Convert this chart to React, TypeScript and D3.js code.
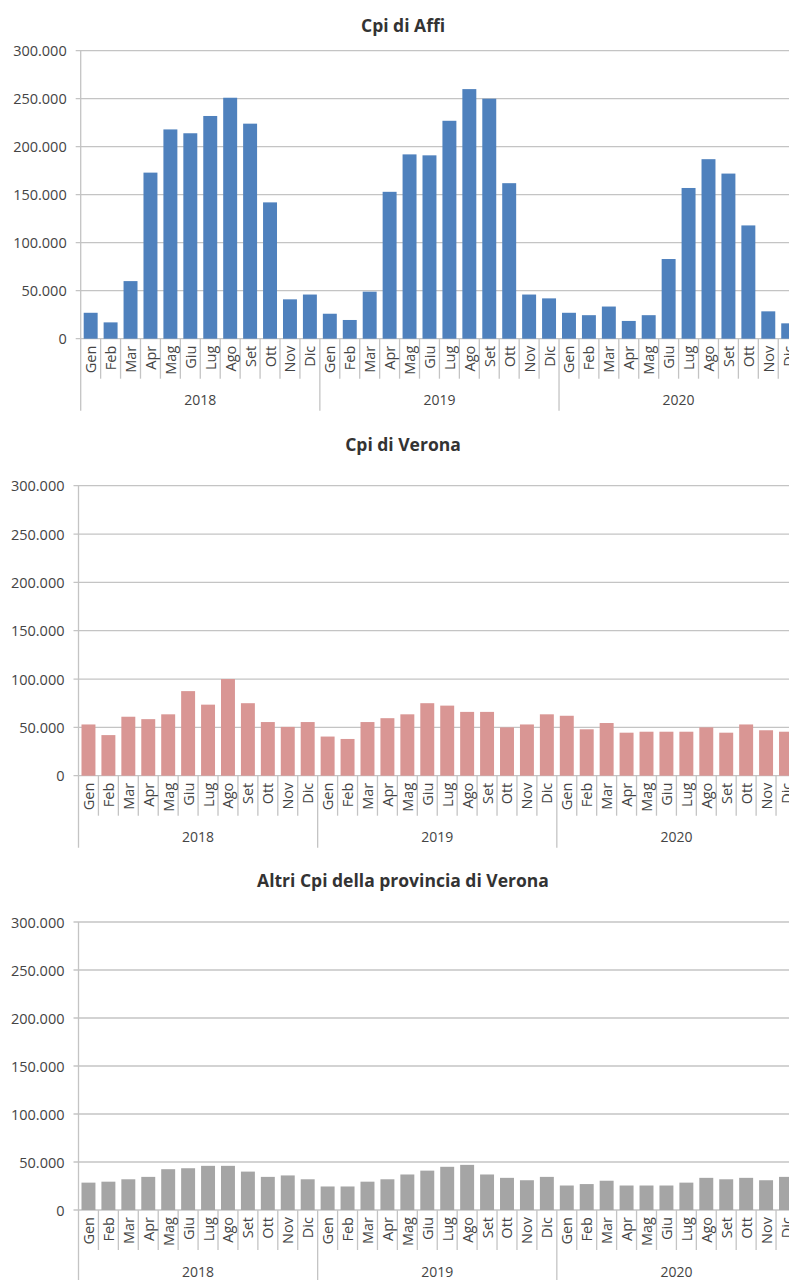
import React from "react";
import * as d3 from "d3";

// Monthly volumes for three groups of Cpi, 2018–2020
const months = ["Gen", "Feb", "Mar", "Apr", "Mag", "Giu", "Lug", "Ago", "Set", "Ott", "Nov", "Dic"];
const years = ["2018", "2019", "2020"];
const yTicks = [0, 50000, 100000, 150000, 200000, 250000, 300000];

const affi = [
  27000, 17000, 60000, 173000, 218000, 214000, 232000, 251000, 224000, 142000, 41000, 46000,
  26000, 19500, 49000, 153000, 192000, 191000, 227000, 260000, 250000, 162000, 46000, 42000,
  27000, 24500, 33500, 18500, 24500, 83000, 157000, 187000, 172000, 118000, 28500, 16000,
];
const verona = [
  53000, 42000, 61000, 58500, 63500, 87500, 73500, 100000, 75000, 55500, 50500, 55500,
  40500, 38000, 55500, 59500, 63500, 75000, 72500, 66000, 66000, 50000, 53000, 63500,
  62000, 48000, 54500, 44500, 45500, 45500, 45500, 50000, 44500, 53000, 47000, 45500,
];
const altri = [
  28500, 29500, 32000, 34500, 42500, 43500, 46000, 46000, 40000, 34500, 36000, 32000,
  24500, 24500, 29500, 32000, 37000, 41000, 45000, 47000, 37000, 33500, 31000, 34500,
  25500, 27000, 30500, 25500, 25500, 25500, 28500, 33500, 32000, 33500, 31000, 34500,
];

const locale = d3.formatLocale({ decimal: ",", thousands: ".", grouping: [3], currency: ["€", ""] });
const fmt = locale.format(",");

const FONT = "'Open Sans', 'Noto Sans', sans-serif";
const GRID = "#c4c4c4";
const TEXT = "#444";

type PanelProps = {
  title: string;
  values: number[];
  color: string;
  titleY: number;
  top: number;
  zero: number;
  x0: number;
};

function Panel({ title, values, color, titleY, top, zero, x0 }: PanelProps) {
  const step = 19.93;
  const cats = years.flatMap((yr) => months.map((m) => `${yr}-${m}`));
  const x = d3.scaleBand<string>().domain(cats).range([x0, x0 + step * cats.length]).padding(0);
  const y = d3.scaleLinear().domain([0, 300000]).range([zero, top]);
  const bw = x.bandwidth() * 0.7;
  const sepBottom = zero + 40;
  const yearBottom = zero + 72;

  return (
    <g>
      <text x={403} y={titleY} textAnchor="middle" dominantBaseline="central"
        fontFamily={FONT} fontWeight={700} fontSize={17.5} fill="#333">{title}</text>
      {yTicks.map((t) => (
        <g key={t}>
          <line x1={x0 - 5} x2={x0 + step * 36} y1={y(t)} y2={y(t)} stroke={GRID} strokeWidth={1.3} />
          <text x={x0 - 14} y={y(t)} textAnchor="end" dominantBaseline="central"
            fontFamily={FONT} fontSize={14.5} fill={TEXT}>{fmt(t)}</text>
        </g>
      ))}
      <line x1={x0} x2={x0} y1={top} y2={yearBottom} stroke={GRID} strokeWidth={1.3} />
      {cats.map((c, i) => (
        <rect key={c} x={(x(c) as number) + (x.bandwidth() - bw) / 2} y={y(values[i])}
          width={bw} height={zero - y(values[i])} fill={color} />
      ))}
      {cats.map((c, i) => {
        const xr = (x(c) as number) + x.bandwidth();
        const isYear = (i + 1) % 12 === 0;
        return <line key={"s" + c} x1={xr} x2={xr} y1={zero} y2={isYear ? yearBottom : sepBottom}
          stroke={GRID} strokeWidth={1.3} />;
      })}
      {cats.map((c, i) => {
        const cx = (x(c) as number) + x.bandwidth() / 2;
        const ty = zero + 7;
        return (
          <text key={"l" + c} x={cx} y={ty} transform={`rotate(-90 ${cx} ${ty})`}
            textAnchor="end" dominantBaseline="central" fontFamily={FONT} fontSize={14.5} fill={TEXT}>
            {months[i % 12]}
          </text>
        );
      })}
      {years.map((yr, k) => {
        const cx = x0 + step * (12 * k + 6);
        return <text key={yr} x={cx} y={zero + 61} textAnchor="middle" dominantBaseline="central"
          fontFamily={FONT} fontSize={14} fill={TEXT}>{yr}</text>;
      })}
    </g>
  );
}

export default function App() {
  return (
    <svg width={789} height={1280} style={{ position: "absolute", left: 0, top: 0, display: "block", background: "#fff" }}>
      <rect width={789} height={1280} fill="#fff" />
      <Panel title="Cpi di Affi" values={affi} color="#4f81bd" titleY={25} top={50.7} zero={338.7} x0={80.7} />
      <Panel title="Cpi di Verona" values={verona} color="#d99694" titleY={444} top={485.7} zero={775.7} x0={78.5} />
      <Panel title="Altri Cpi della provincia di Verona" values={altri} color="#a5a5a5" titleY={880} top={922} zero={1210} x0={78.5} />
    </svg>
  );
}
